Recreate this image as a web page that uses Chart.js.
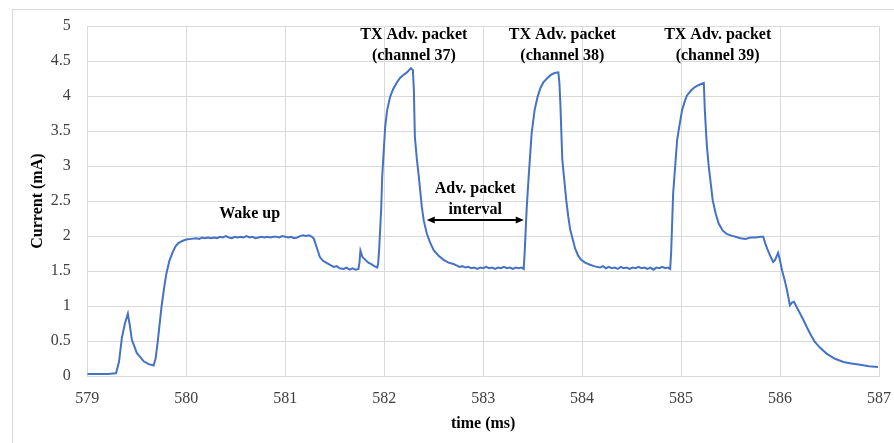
<!doctype html>
<html lang="en">
<head>
  <meta charset="utf-8">
  <title>BLE Advertising Current</title>
  <script src="https://cdn.jsdelivr.net/npm/chart.js"></script>
  <style>
    html, body { margin: 0; padding: 0; background: #fff; overflow: hidden; }
    #wrap { position: relative; width: 894px; height: 443px; }
    #frame { position: absolute; left: 12px; top: 9px; width: 900px; height: 450px;
             border-left: 1px solid #d9d9d9; border-top: 1px solid #d9d9d9; box-sizing: border-box; }
    #currentChart { position: absolute; left: 0; top: 0; }
  </style>
</head>
<body>
  <div id="wrap">
    <div id="frame"></div>
    <canvas id="currentChart" width="894" height="443"></canvas>
  </div>

  <script>
    // Current trace (time in ms, current in mA)
    const times = [
      579.00, 579.10, 579.20, 579.29, 579.32, 579.35, 579.38, 579.41, 579.43, 579.45,
      579.50, 579.57, 579.62, 579.67, 579.69, 579.71, 579.75, 579.78, 579.80, 579.83,
      579.86, 579.89, 579.92, 579.96, 580.00, 580.05, 580.10, 580.13, 580.16, 580.19,
      580.22, 580.25, 580.28, 580.31, 580.34, 580.37, 580.40, 580.43, 580.46, 580.49,
      580.52, 580.55, 580.58, 580.61, 580.64, 580.67, 580.70, 580.73, 580.76, 580.79,
      580.82, 580.85, 580.88, 580.91, 580.94, 580.97, 581.00, 581.03, 581.06, 581.09,
      581.12, 581.15, 581.18, 581.21, 581.24, 581.27, 581.29, 581.32, 581.35, 581.38,
      581.40, 581.44, 581.49, 581.52, 581.55, 581.59, 581.62, 581.65, 581.68, 581.71,
      581.74, 581.75, 581.76, 581.78, 581.81, 581.84, 581.87, 581.90, 581.93, 581.94,
      581.95, 581.97, 581.98, 582.01, 582.03, 582.06, 582.09, 582.13, 582.16, 582.19,
      582.23, 582.27, 582.29, 582.30, 582.31, 582.33, 582.35, 582.38, 582.40, 582.43,
      582.46, 582.50, 582.55, 582.60, 582.65, 582.70, 582.73, 582.76, 582.79, 582.82,
      582.85, 582.88, 582.91, 582.94, 582.97, 583.00, 583.03, 583.06, 583.09, 583.12,
      583.15, 583.18, 583.21, 583.24, 583.27, 583.30, 583.33, 583.36, 583.39, 583.41,
      583.42, 583.44, 583.46, 583.49, 583.52, 583.55, 583.58, 583.61, 583.65, 583.68,
      583.72, 583.76, 583.77, 583.78, 583.80, 583.82, 583.84, 583.86, 583.88, 583.93,
      583.96, 583.99, 584.03, 584.08, 584.12, 584.15, 584.18, 584.21, 584.24, 584.27,
      584.30, 584.33, 584.36, 584.39, 584.42, 584.45, 584.48, 584.51, 584.54, 584.57,
      584.60, 584.63, 584.66, 584.69, 584.72, 584.75, 584.78, 584.81, 584.84, 584.87,
      584.89, 584.90, 584.92, 584.96, 584.98, 585.01, 585.04, 585.06, 585.10, 585.14,
      585.18, 585.23, 585.24, 585.26, 585.28, 585.32, 585.35, 585.38, 585.42, 585.46,
      585.50, 585.55, 585.60, 585.65, 585.70, 585.75, 585.80, 585.83, 585.85, 585.87,
      585.90, 585.93, 585.95, 585.98, 586.00, 586.02, 586.05, 586.07, 586.10, 586.12,
      586.14, 586.17, 586.20, 586.24, 586.27, 586.31, 586.35, 586.40, 586.47, 586.55,
      586.64, 586.72, 586.81, 586.90, 586.99
    ];
    const current = [
      0.03, 0.03, 0.03, 0.04, 0.20, 0.55, 0.75, 0.89, 0.72, 0.52,
      0.33, 0.21, 0.17, 0.15, 0.25, 0.47, 0.99, 1.30, 1.47, 1.65,
      1.76, 1.85, 1.90, 1.93, 1.95, 1.96, 1.97, 1.96, 1.98, 1.97,
      1.98, 1.97, 1.98, 1.97, 1.99, 1.98, 2.00, 1.98, 1.97, 1.99,
      1.98, 1.99, 1.98, 2.00, 1.98, 1.99, 1.97, 1.98, 1.99, 1.98,
      1.99, 1.98, 1.99, 1.99, 1.98, 2.00, 1.99, 1.98, 1.99, 1.97,
      1.98, 2.00, 2.01, 2.00, 2.01, 1.99, 1.96, 1.83, 1.70, 1.65,
      1.63, 1.60, 1.56, 1.57, 1.54, 1.53, 1.55, 1.52, 1.54, 1.52,
      1.53, 1.62, 1.79, 1.70, 1.66, 1.62, 1.60, 1.57, 1.55, 1.62,
      1.83, 2.40, 2.85, 3.56, 3.80, 3.99, 4.10, 4.20, 4.26, 4.30,
      4.34, 4.40, 4.37, 4.09, 3.42, 3.10, 2.85, 2.42, 2.22, 2.04,
      1.92, 1.80, 1.72, 1.66, 1.62, 1.60, 1.58, 1.56, 1.57, 1.55,
      1.56, 1.54, 1.55, 1.53, 1.55, 1.54, 1.56, 1.54, 1.55, 1.53,
      1.55, 1.54, 1.56, 1.54, 1.55, 1.53, 1.55, 1.54, 1.55, 1.53,
      1.78, 2.40, 2.85, 3.47, 3.80, 3.99, 4.12, 4.20, 4.26, 4.30,
      4.33, 4.34, 4.20, 3.90, 3.09, 2.80, 2.51, 2.28, 2.09, 1.82,
      1.72, 1.66, 1.62, 1.59, 1.57, 1.56, 1.55, 1.57, 1.54, 1.56,
      1.54, 1.55, 1.53, 1.56, 1.54, 1.55, 1.53, 1.55, 1.54, 1.56,
      1.54, 1.55, 1.53, 1.55, 1.52, 1.55, 1.54, 1.56, 1.54, 1.55,
      1.53, 1.78, 2.61, 3.37, 3.55, 3.80, 3.94, 4.01, 4.08, 4.13,
      4.16, 4.19, 3.80, 3.30, 2.99, 2.51, 2.32, 2.18, 2.08, 2.03,
      2.01, 1.99, 1.97, 1.96, 1.98, 1.98, 1.99, 1.99, 1.90, 1.82,
      1.72, 1.63, 1.66, 1.76, 1.65, 1.51, 1.35, 1.23, 1.01, 1.05,
      1.06, 0.98, 0.90, 0.79, 0.70, 0.59, 0.49, 0.41, 0.32, 0.25,
      0.20, 0.18, 0.16, 0.14, 0.13
    ];

    // Annotation texts and where they sit (data units)
    const labelTexts = [
      ['TX Adv. packet', '(channel 37)'],
      ['TX Adv. packet', '(channel 38)'],
      ['TX Adv. packet', '(channel 39)'],
      ['Wake up'],
      ['Adv. packet', 'interval']
    ];
    const labelX = [582.30, 583.80, 585.37, 580.64, 582.92];
    const labelY = [4.87, 4.87, 4.87, 2.32, 2.67];
    const intervalArrow = { from: 582.43, to: 583.41, at: 2.23 };

    const serif = '"Liberation Serif", "Times New Roman", serif';

    const annotations = {
      id: 'annotations',
      afterDatasetsDraw(chart) {
        const { ctx, scales: { x, y } } = chart;
        ctx.save();
        ctx.fillStyle = '#000';
        ctx.strokeStyle = '#000';
        ctx.font = 'bold 16px ' + serif;
        ctx.textAlign = 'center';
        ctx.textBaseline = 'middle';
        labelTexts.forEach((lines, i) => {
          const px = x.getPixelForValue(labelX[i]);
          const py = y.getPixelForValue(labelY[i]);
          lines.forEach((t, j) => ctx.fillText(t, px, py + j * 20.5));
        });

        // double-headed arrow for the packet interval
        const x1 = x.getPixelForValue(intervalArrow.from);
        const x2 = x.getPixelForValue(intervalArrow.to);
        const ay = y.getPixelForValue(intervalArrow.at);
        const head = 8, half = 3.5;
        ctx.lineWidth = 2;
        ctx.beginPath();
        ctx.moveTo(x1 + head - 1, ay);
        ctx.lineTo(x2 - head + 1, ay);
        ctx.stroke();
        ctx.beginPath();
        ctx.moveTo(x1, ay); ctx.lineTo(x1 + head, ay - half); ctx.lineTo(x1 + head, ay + half);
        ctx.closePath(); ctx.fill();
        ctx.beginPath();
        ctx.moveTo(x2, ay); ctx.lineTo(x2 - head, ay - half); ctx.lineTo(x2 - head, ay + half);
        ctx.closePath(); ctx.fill();
        ctx.restore();
      }
    };

    const ctx = document.getElementById('currentChart').getContext('2d');
    new Chart(ctx, {
      type: 'line',
      data: {
        datasets: [{
          label: 'Current',
          data: times.map((t, i) => ({ x: t, y: current[i] })),
          borderColor: '#4472c4',
          borderWidth: 2,
          pointRadius: 0,
          tension: 0,
          fill: false
        }]
      },
      options: {
        responsive: false,
        animation: false,
        layout: { padding: { left: 28, right: 14.7, top: 25.7, bottom: 9.4 } },
        plugins: { legend: { display: false }, tooltip: { enabled: false } },
        scales: {
          x: {
            type: 'linear',
            min: 579,
            max: 587,
            ticks: { stepSize: 1, padding: 3, color: '#404040', callback: v => String(v),
                     font: { family: serif, size: 16, lineHeight: 2.5 } },
            grid: { color: '#d9d9d9', drawTicks: false },
            border: { color: '#d9d9d9' },
            title: { display: true, text: 'time (ms)', color: '#000', padding: 0,
                     font: { family: serif, size: 16, weight: 'bold' } },
            afterFit(scale) { scale.height = 57.6; }
          },
          y: {
            min: 0,
            max: 5,
            ticks: { stepSize: 0.5, padding: 16.6, color: '#404040', callback: v => String(v),
                     font: { family: serif, size: 16 } },
            grid: { color: '#d9d9d9', drawTicks: false },
            border: { color: '#d9d9d9' },
            title: { display: true, text: 'Current (mA)', color: '#000', padding: 0,
                     font: { family: serif, size: 16, weight: 'bold' } },
            afterFit(scale) { scale.width = 59.3; }
          }
        }
      },
      plugins: [annotations]
    });
  </script>
</body>
</html>
